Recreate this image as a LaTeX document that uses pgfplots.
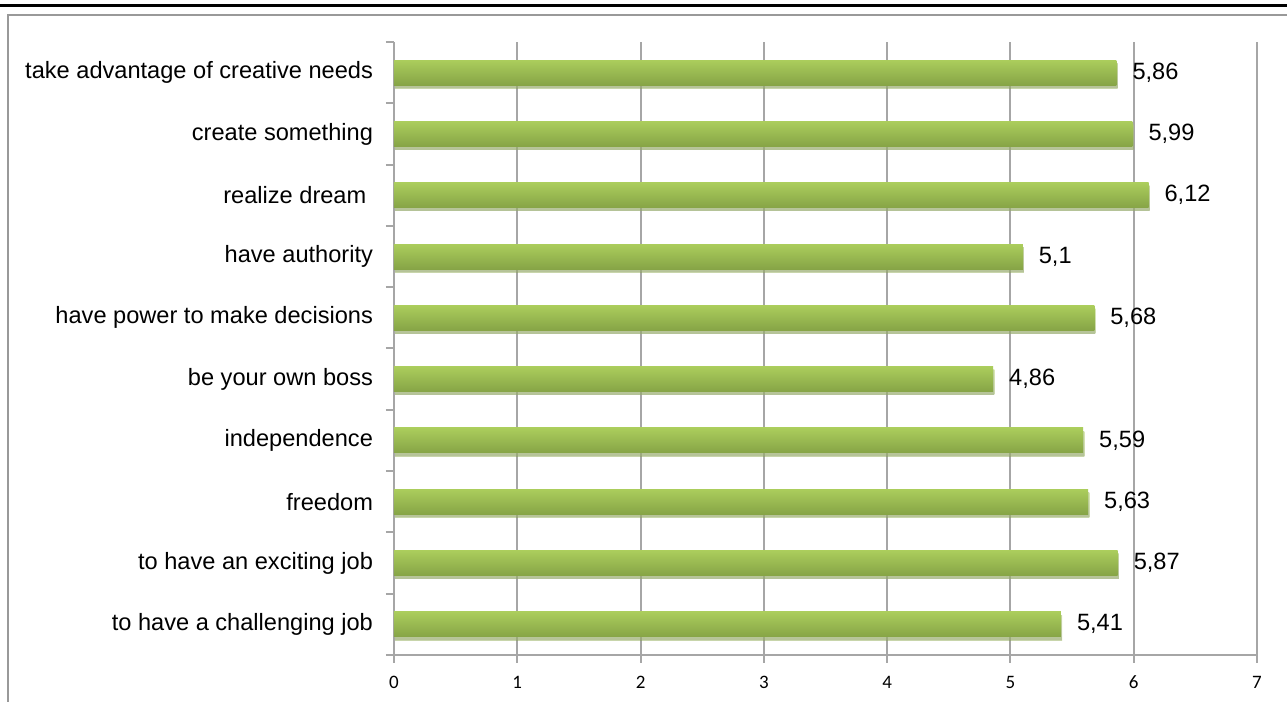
\documentclass[border=0pt]{standalone}
\usepackage{fontspec}
\setmainfont{Liberation Sans}
\newfontfamily\calib{Carlito}
\usepackage{pgfplots}
\pgfplotsset{compat=1.18}
\usetikzlibrary{shadows}
\definecolor{gridgray}{HTML}{A6A6A6}
\definecolor{bartop}{HTML}{ABCD5C}
\definecolor{barbot}{HTML}{86A446}
\pgfplotsset{
  mybar/.style={xbar, bar width=12.5pt, bar shift=0pt, draw=none,
    top color=bartop, bottom color=barbot,
    drop shadow={shadow xshift=0.6pt, shadow yshift=-1.6pt, fill=black!30, opacity=0.45},
    nodes near coords={\pgfmathprintnumber[use comma]{\pgfplotspointmeta}},
    point meta=x,
    every node near coord/.append style={font=\normalfont\fontsize{11.8}{14}\selectfont, anchor=west, xshift=4.5pt, text=black, fill=none, drop shadow={opacity=0}}},
}
\begin{document}
\begin{tikzpicture}
\useasboundingbox (0,0) rectangle (643.5pt,351pt);
\fill[white] (0,0) rectangle (643.5pt,351pt);
\draw[black, line width=1.5pt] (0,348.25pt) -- (643.5pt,348.25pt);
\draw[gray!80, line width=1pt] (4pt,0) -- (4pt,343.5pt) -- (643.5pt,343.5pt);
\begin{axis}[
  at={(197pt,23.5pt)}, anchor=south west,
  scale only axis, width=431.5pt, height=306.5pt,
  xmin=0, xmax=7, ymin=-0.5, ymax=9.5,
  axis lines*=left,
  axis line style={draw=gridgray, line width=1pt},
  xtick={0,...,7},
  ytick={0,...,9},
  yticklabels={to have a challenging job, to have an exciting job, freedom, independence, be your own boss, have power to make decisions, have authority, realize dream\kern0.28em, create something, take advantage of creative needs},
  minor ytick={-0.5,0.5,...,9.5},
  tick align=outside,
  major tick length=4pt,
  minor tick length=4pt,
  major y tick style={draw=none},
  minor y tick style={draw=gridgray, line width=1pt},
  major x tick style={draw=gridgray, line width=1pt},
  xmajorgrids,
  major grid style={draw=gridgray, line width=1pt},
  xticklabel style={font=\calib\fontsize{9.5}{11}\selectfont, yshift=-3pt},
  yticklabel style={font=\fontsize{11.8}{14}\selectfont, xshift=-3pt},
  /pgf/number format/assume math mode=true,
  clip=false,
]
\addplot[mybar] coordinates {(5.41,0)};
\addplot[mybar] coordinates {(5.87,1)};
\addplot[mybar] coordinates {(5.63,2)};
\addplot[mybar] coordinates {(5.59,3)};
\addplot[mybar] coordinates {(4.86,4)};
\addplot[mybar] coordinates {(5.68,5)};
\addplot[mybar] coordinates {(5.1,6)};
\addplot[mybar] coordinates {(6.12,7)};
\addplot[mybar] coordinates {(5.99,8)};
\addplot[mybar] coordinates {(5.86,9)};
\end{axis}
\end{tikzpicture}
\end{document}
